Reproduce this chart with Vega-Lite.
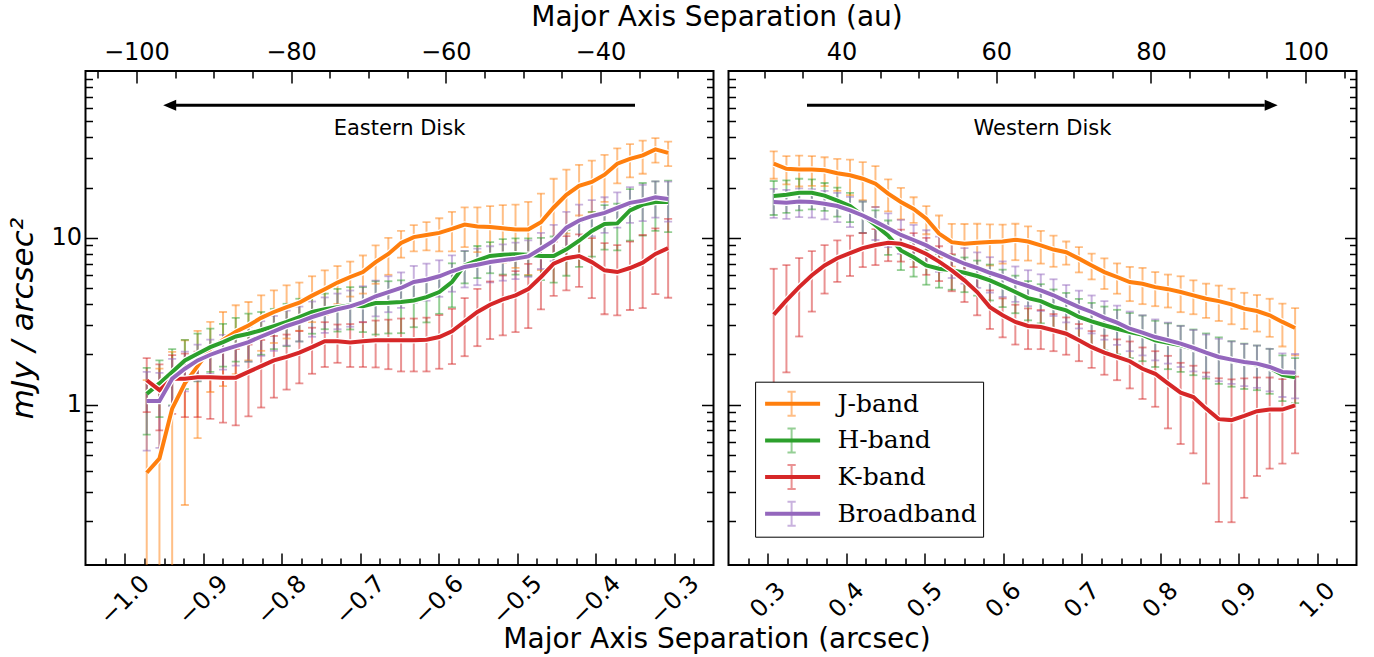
{
"$schema":"https://vega.github.io/schema/vega-lite/v6.json",
"background":"white",
"padding":{"left":6.5,"top":2,"right":5,"bottom":5},
"bounds":"flush",
"spacing":15,
"config":{
 "view":{"stroke":"black","strokeWidth":2},
 "axis":{"domain":false,"grid":false,"tickColor":"black","tickWidth":1.5,"labelFont":"DejaVu Sans","labelFontSize":24,"labelColor":"black","titleFont":"DejaVu Sans","titleFontSize":28,"titleFontWeight":"normal","titleColor":"black","labelFlush":false,"labelOverlap":false}
},
"datasets":{
"ann":[
{"s":"E","x":-0.35,"x2":-0.935,"tip":-0.951,"y":62.3,"xm":-0.65,"yt":44.8,"label":"Eastern Disk"},
{"s":"W","x":0.35,"x2":0.9331,"tip":0.9496,"y":62.3,"xm":0.65,"yt":44.8,"label":"Western Disk"}
],
"pts":[
{"s":"E","b":"J-band","x":-0.972,"v":0.39,"lo":0.01,"hi":1.4},
{"s":"E","b":"J-band","x":-0.9558,"v":0.475,"lo":0.01,"hi":1.645},
{"s":"E","b":"J-band","x":-0.9396,"v":0.946,"lo":0.01,"hi":2.07},
{"s":"E","b":"J-band","x":-0.9234,"v":1.34,"lo":0.25,"hi":2.43},
{"s":"E","b":"J-band","x":-0.9072,"v":1.7,"lo":0.63,"hi":2.77},
{"s":"E","b":"J-band","x":-0.891,"v":2.16,"lo":1.19,"hi":3.13},
{"s":"E","b":"J-band","x":-0.8748,"v":2.44,"lo":1.29,"hi":3.59},
{"s":"E","b":"J-band","x":-0.8586,"v":2.73,"lo":1.52,"hi":3.94},
{"s":"E","b":"J-band","x":-0.8424,"v":2.98,"lo":1.84,"hi":4.12},
{"s":"E","b":"J-band","x":-0.8262,"v":3.31,"lo":2.1,"hi":4.52},
{"s":"E","b":"J-band","x":-0.81,"v":3.59,"lo":2.34,"hi":4.84},
{"s":"E","b":"J-band","x":-0.7938,"v":3.84,"lo":2.49,"hi":5.19},
{"s":"E","b":"J-band","x":-0.7776,"v":4.08,"lo":2.77,"hi":5.39},
{"s":"E","b":"J-band","x":-0.7614,"v":4.5,"lo":3.12,"hi":5.88},
{"s":"E","b":"J-band","x":-0.7452,"v":4.92,"lo":3.46,"hi":6.38},
{"s":"E","b":"J-band","x":-0.729,"v":5.39,"lo":4.01,"hi":6.77},
{"s":"E","b":"J-band","x":-0.7128,"v":5.82,"lo":4.44,"hi":7.2},
{"s":"E","b":"J-band","x":-0.6966,"v":6.23,"lo":4.63,"hi":7.83},
{"s":"E","b":"J-band","x":-0.6804,"v":7.15,"lo":5.3,"hi":9.0},
{"s":"E","b":"J-band","x":-0.6642,"v":8.0,"lo":6.0,"hi":10.0},
{"s":"E","b":"J-band","x":-0.648,"v":9.3,"lo":7.6,"hi":11.0},
{"s":"E","b":"J-band","x":-0.6318,"v":10.1,"lo":8.3,"hi":11.9},
{"s":"E","b":"J-band","x":-0.6156,"v":10.4,"lo":8.4,"hi":12.4},
{"s":"E","b":"J-band","x":-0.5994,"v":10.7,"lo":8.3,"hi":13.1},
{"s":"E","b":"J-band","x":-0.5832,"v":11.3,"lo":8.3,"hi":14.3},
{"s":"E","b":"J-band","x":-0.567,"v":12.0,"lo":8.8,"hi":15.2},
{"s":"E","b":"J-band","x":-0.5508,"v":11.7,"lo":8.2,"hi":15.2},
{"s":"E","b":"J-band","x":-0.5346,"v":11.6,"lo":7.7,"hi":15.5},
{"s":"E","b":"J-band","x":-0.5184,"v":11.4,"lo":7.1,"hi":15.7},
{"s":"E","b":"J-band","x":-0.5022,"v":11.2,"lo":6.6,"hi":15.8},
{"s":"E","b":"J-band","x":-0.486,"v":11.2,"lo":6.0,"hi":16.4},
{"s":"E","b":"J-band","x":-0.4698,"v":12.4,"lo":6.4,"hi":18.4},
{"s":"E","b":"J-band","x":-0.4536,"v":15.2,"lo":7.8,"hi":22.6},
{"s":"E","b":"J-band","x":-0.4374,"v":18.1,"lo":10.6,"hi":25.6},
{"s":"E","b":"J-band","x":-0.4212,"v":20.5,"lo":13.6,"hi":27.4},
{"s":"E","b":"J-band","x":-0.405,"v":21.6,"lo":14.2,"hi":29.0},
{"s":"E","b":"J-band","x":-0.3888,"v":23.9,"lo":16.4,"hi":31.4},
{"s":"E","b":"J-band","x":-0.3726,"v":27.8,"lo":21.2,"hi":34.4},
{"s":"E","b":"J-band","x":-0.3564,"v":29.7,"lo":23.0,"hi":36.4},
{"s":"E","b":"J-band","x":-0.3402,"v":31.2,"lo":24.2,"hi":38.2},
{"s":"E","b":"J-band","x":-0.324,"v":33.9,"lo":28.2,"hi":39.6},
{"s":"E","b":"J-band","x":-0.3078,"v":32.3,"lo":26.9,"hi":37.7},
{"s":"E","b":"H-band","x":-0.972,"v":1.16,"lo":0.66,"hi":1.66},
{"s":"E","b":"H-band","x":-0.9558,"v":1.34,"lo":0.84,"hi":1.84},
{"s":"E","b":"H-band","x":-0.9396,"v":1.57,"lo":0.99,"hi":2.15},
{"s":"E","b":"H-band","x":-0.9234,"v":1.84,"lo":1.24,"hi":2.44},
{"s":"E","b":"H-band","x":-0.9072,"v":2.02,"lo":1.38,"hi":2.66},
{"s":"E","b":"H-band","x":-0.891,"v":2.21,"lo":1.57,"hi":2.85},
{"s":"E","b":"H-band","x":-0.8748,"v":2.37,"lo":1.69,"hi":3.05},
{"s":"E","b":"H-band","x":-0.8586,"v":2.56,"lo":1.81,"hi":3.31},
{"s":"E","b":"H-band","x":-0.8424,"v":2.66,"lo":1.81,"hi":3.51},
{"s":"E","b":"H-band","x":-0.8262,"v":2.79,"lo":1.99,"hi":3.59},
{"s":"E","b":"H-band","x":-0.81,"v":2.95,"lo":2.15,"hi":3.75},
{"s":"E","b":"H-band","x":-0.7938,"v":3.13,"lo":2.24,"hi":4.02},
{"s":"E","b":"H-band","x":-0.7776,"v":3.35,"lo":2.39,"hi":4.31},
{"s":"E","b":"H-band","x":-0.7614,"v":3.59,"lo":2.66,"hi":4.52},
{"s":"E","b":"H-band","x":-0.7452,"v":3.73,"lo":2.83,"hi":4.63},
{"s":"E","b":"H-band","x":-0.729,"v":3.84,"lo":2.74,"hi":4.94},
{"s":"E","b":"H-band","x":-0.7128,"v":3.94,"lo":2.82,"hi":5.06},
{"s":"E","b":"H-band","x":-0.6966,"v":3.89,"lo":2.72,"hi":5.06},
{"s":"E","b":"H-band","x":-0.6804,"v":4.06,"lo":2.63,"hi":5.49},
{"s":"E","b":"H-band","x":-0.6642,"v":4.08,"lo":2.67,"hi":5.49},
{"s":"E","b":"H-band","x":-0.648,"v":4.12,"lo":2.68,"hi":5.56},
{"s":"E","b":"H-band","x":-0.6318,"v":4.21,"lo":2.91,"hi":5.51},
{"s":"E","b":"H-band","x":-0.6156,"v":4.41,"lo":3.11,"hi":5.71},
{"s":"E","b":"H-band","x":-0.5994,"v":4.73,"lo":3.5,"hi":5.96},
{"s":"E","b":"H-band","x":-0.5832,"v":5.43,"lo":3.83,"hi":7.03},
{"s":"E","b":"H-band","x":-0.567,"v":6.83,"lo":5.33,"hi":8.33},
{"s":"E","b":"H-band","x":-0.5508,"v":7.33,"lo":5.73,"hi":8.93},
{"s":"E","b":"H-band","x":-0.5346,"v":7.78,"lo":6.13,"hi":9.43},
{"s":"E","b":"H-band","x":-0.5184,"v":7.92,"lo":6.02,"hi":9.82},
{"s":"E","b":"H-band","x":-0.5022,"v":7.97,"lo":6.02,"hi":9.92},
{"s":"E","b":"H-band","x":-0.486,"v":7.92,"lo":5.92,"hi":9.92},
{"s":"E","b":"H-band","x":-0.4698,"v":7.78,"lo":5.58,"hi":9.98},
{"s":"E","b":"H-band","x":-0.4536,"v":7.78,"lo":5.38,"hi":10.18},
{"s":"E","b":"H-band","x":-0.4374,"v":8.52,"lo":5.92,"hi":11.12},
{"s":"E","b":"H-band","x":-0.4212,"v":9.6,"lo":6.7,"hi":12.5},
{"s":"E","b":"H-band","x":-0.405,"v":11.0,"lo":7.7,"hi":14.3},
{"s":"E","b":"H-band","x":-0.3888,"v":12.1,"lo":8.5,"hi":15.7},
{"s":"E","b":"H-band","x":-0.3726,"v":12.2,"lo":8.4,"hi":16.0},
{"s":"E","b":"H-band","x":-0.3564,"v":14.6,"lo":9.6,"hi":19.6},
{"s":"E","b":"H-band","x":-0.3402,"v":15.8,"lo":10.3,"hi":21.3},
{"s":"E","b":"H-band","x":-0.324,"v":16.4,"lo":11.0,"hi":21.8},
{"s":"E","b":"H-band","x":-0.3078,"v":16.4,"lo":10.8,"hi":22.0},
{"s":"E","b":"K-band","x":-0.972,"v":1.4,"lo":0.9,"hi":1.9},
{"s":"E","b":"K-band","x":-0.9558,"v":1.22,"lo":0.7,"hi":1.74},
{"s":"E","b":"K-band","x":-0.9396,"v":1.43,"lo":0.88,"hi":1.98},
{"s":"E","b":"K-band","x":-0.9234,"v":1.43,"lo":0.84,"hi":2.02},
{"s":"E","b":"K-band","x":-0.9072,"v":1.46,"lo":0.84,"hi":2.08},
{"s":"E","b":"K-band","x":-0.891,"v":1.46,"lo":0.82,"hi":2.1},
{"s":"E","b":"K-band","x":-0.8748,"v":1.45,"lo":0.78,"hi":2.12},
{"s":"E","b":"K-band","x":-0.8586,"v":1.45,"lo":0.75,"hi":2.15},
{"s":"E","b":"K-band","x":-0.8424,"v":1.57,"lo":0.85,"hi":2.29},
{"s":"E","b":"K-band","x":-0.8262,"v":1.7,"lo":0.96,"hi":2.44},
{"s":"E","b":"K-band","x":-0.81,"v":1.84,"lo":1.1,"hi":2.58},
{"s":"E","b":"K-band","x":-0.7938,"v":1.93,"lo":1.23,"hi":2.63},
{"s":"E","b":"K-band","x":-0.7776,"v":2.05,"lo":1.34,"hi":2.76},
{"s":"E","b":"K-band","x":-0.7614,"v":2.21,"lo":1.53,"hi":2.89},
{"s":"E","b":"K-band","x":-0.7452,"v":2.4,"lo":1.68,"hi":3.12},
{"s":"E","b":"K-band","x":-0.729,"v":2.4,"lo":1.78,"hi":3.02},
{"s":"E","b":"K-band","x":-0.7128,"v":2.36,"lo":1.68,"hi":3.04},
{"s":"E","b":"K-band","x":-0.6966,"v":2.4,"lo":1.68,"hi":3.12},
{"s":"E","b":"K-band","x":-0.6804,"v":2.43,"lo":1.67,"hi":3.19},
{"s":"E","b":"K-band","x":-0.6642,"v":2.43,"lo":1.63,"hi":3.23},
{"s":"E","b":"K-band","x":-0.648,"v":2.43,"lo":1.58,"hi":3.28},
{"s":"E","b":"K-band","x":-0.6318,"v":2.43,"lo":1.58,"hi":3.28},
{"s":"E","b":"K-band","x":-0.6156,"v":2.45,"lo":1.58,"hi":3.32},
{"s":"E","b":"K-band","x":-0.5994,"v":2.54,"lo":1.64,"hi":3.44},
{"s":"E","b":"K-band","x":-0.5832,"v":2.75,"lo":1.75,"hi":3.75},
{"s":"E","b":"K-band","x":-0.567,"v":3.15,"lo":1.95,"hi":4.35},
{"s":"E","b":"K-band","x":-0.5508,"v":3.59,"lo":2.24,"hi":4.94},
{"s":"E","b":"K-band","x":-0.5346,"v":3.97,"lo":2.47,"hi":5.47},
{"s":"E","b":"K-band","x":-0.5184,"v":4.27,"lo":2.6,"hi":5.94},
{"s":"E","b":"K-band","x":-0.5022,"v":4.52,"lo":2.72,"hi":6.32},
{"s":"E","b":"K-band","x":-0.486,"v":4.92,"lo":2.87,"hi":6.97},
{"s":"E","b":"K-band","x":-0.4698,"v":5.82,"lo":3.72,"hi":7.92},
{"s":"E","b":"K-band","x":-0.4536,"v":6.99,"lo":4.49,"hi":9.49},
{"s":"E","b":"K-band","x":-0.4374,"v":7.54,"lo":4.84,"hi":10.24},
{"s":"E","b":"K-band","x":-0.4212,"v":7.78,"lo":5.08,"hi":10.48},
{"s":"E","b":"K-band","x":-0.405,"v":7.15,"lo":4.35,"hi":9.95},
{"s":"E","b":"K-band","x":-0.3888,"v":6.38,"lo":3.48,"hi":9.28},
{"s":"E","b":"K-band","x":-0.3726,"v":6.23,"lo":3.43,"hi":9.03},
{"s":"E","b":"K-band","x":-0.3564,"v":6.59,"lo":3.69,"hi":9.49},
{"s":"E","b":"K-band","x":-0.3402,"v":7.09,"lo":3.79,"hi":10.39},
{"s":"E","b":"K-band","x":-0.324,"v":8.0,"lo":4.6,"hi":11.4},
{"s":"E","b":"K-band","x":-0.3078,"v":8.67,"lo":4.37,"hi":12.97},
{"s":"E","b":"Broadband","x":-0.972,"v":1.05,"lo":0.53,"hi":1.57},
{"s":"E","b":"Broadband","x":-0.9558,"v":1.05,"lo":0.55,"hi":1.55},
{"s":"E","b":"Broadband","x":-0.9396,"v":1.43,"lo":0.98,"hi":1.88},
{"s":"E","b":"Broadband","x":-0.9234,"v":1.64,"lo":1.2,"hi":2.08},
{"s":"E","b":"Broadband","x":-0.9072,"v":1.84,"lo":1.39,"hi":2.29},
{"s":"E","b":"Broadband","x":-0.891,"v":1.99,"lo":1.53,"hi":2.45},
{"s":"E","b":"Broadband","x":-0.8748,"v":2.12,"lo":1.62,"hi":2.62},
{"s":"E","b":"Broadband","x":-0.8586,"v":2.24,"lo":1.71,"hi":2.77},
{"s":"E","b":"Broadband","x":-0.8424,"v":2.37,"lo":1.81,"hi":2.93},
{"s":"E","b":"Broadband","x":-0.8262,"v":2.56,"lo":1.96,"hi":3.16},
{"s":"E","b":"Broadband","x":-0.81,"v":2.75,"lo":2.1,"hi":3.4},
{"s":"E","b":"Broadband","x":-0.7938,"v":2.96,"lo":2.26,"hi":3.66},
{"s":"E","b":"Broadband","x":-0.7776,"v":3.13,"lo":2.39,"hi":3.87},
{"s":"E","b":"Broadband","x":-0.7614,"v":3.35,"lo":2.55,"hi":4.15},
{"s":"E","b":"Broadband","x":-0.7452,"v":3.54,"lo":2.69,"hi":4.39},
{"s":"E","b":"Broadband","x":-0.729,"v":3.73,"lo":2.83,"hi":4.63},
{"s":"E","b":"Broadband","x":-0.7128,"v":3.88,"lo":2.93,"hi":4.83},
{"s":"E","b":"Broadband","x":-0.6966,"v":4.12,"lo":3.12,"hi":5.12},
{"s":"E","b":"Broadband","x":-0.6804,"v":4.46,"lo":3.38,"hi":5.54},
{"s":"E","b":"Broadband","x":-0.6642,"v":4.73,"lo":3.58,"hi":5.88},
{"s":"E","b":"Broadband","x":-0.648,"v":5.0,"lo":3.8,"hi":6.2},
{"s":"E","b":"Broadband","x":-0.6318,"v":5.43,"lo":4.08,"hi":6.78},
{"s":"E","b":"Broadband","x":-0.6156,"v":5.6,"lo":4.2,"hi":7.0},
{"s":"E","b":"Broadband","x":-0.5994,"v":5.88,"lo":4.43,"hi":7.33},
{"s":"E","b":"Broadband","x":-0.5832,"v":6.3,"lo":4.75,"hi":7.85},
{"s":"E","b":"Broadband","x":-0.567,"v":6.69,"lo":5.04,"hi":8.34},
{"s":"E","b":"Broadband","x":-0.5508,"v":6.9,"lo":5.2,"hi":8.6},
{"s":"E","b":"Broadband","x":-0.5346,"v":7.15,"lo":5.4,"hi":8.9},
{"s":"E","b":"Broadband","x":-0.5184,"v":7.33,"lo":5.53,"hi":9.13},
{"s":"E","b":"Broadband","x":-0.5022,"v":7.5,"lo":5.65,"hi":9.35},
{"s":"E","b":"Broadband","x":-0.486,"v":7.74,"lo":5.84,"hi":9.64},
{"s":"E","b":"Broadband","x":-0.4698,"v":8.6,"lo":6.5,"hi":10.7},
{"s":"E","b":"Broadband","x":-0.4536,"v":9.6,"lo":7.25,"hi":11.95},
{"s":"E","b":"Broadband","x":-0.4374,"v":11.5,"lo":8.7,"hi":14.3},
{"s":"E","b":"Broadband","x":-0.4212,"v":12.7,"lo":9.6,"hi":15.8},
{"s":"E","b":"Broadband","x":-0.405,"v":13.5,"lo":10.2,"hi":16.8},
{"s":"E","b":"Broadband","x":-0.3888,"v":14.1,"lo":10.7,"hi":17.5},
{"s":"E","b":"Broadband","x":-0.3726,"v":15.1,"lo":11.5,"hi":18.7},
{"s":"E","b":"Broadband","x":-0.3564,"v":16.2,"lo":12.3,"hi":20.1},
{"s":"E","b":"Broadband","x":-0.3402,"v":16.7,"lo":12.6,"hi":20.8},
{"s":"E","b":"Broadband","x":-0.324,"v":17.5,"lo":13.2,"hi":21.8},
{"s":"E","b":"Broadband","x":-0.3078,"v":17.1,"lo":12.5,"hi":21.7},
{"s":"W","b":"J-band","x":0.3076,"v":27.8,"lo":22.6,"hi":33.0},
{"s":"W","b":"J-band","x":0.3238,"v":25.9,"lo":20.9,"hi":30.9},
{"s":"W","b":"J-band","x":0.34,"v":25.7,"lo":20.3,"hi":31.1},
{"s":"W","b":"J-band","x":0.3562,"v":25.7,"lo":20.5,"hi":30.9},
{"s":"W","b":"J-band","x":0.3724,"v":25.4,"lo":20.4,"hi":30.4},
{"s":"W","b":"J-band","x":0.3886,"v":24.4,"lo":19.1,"hi":29.7},
{"s":"W","b":"J-band","x":0.4048,"v":23.7,"lo":18.0,"hi":29.4},
{"s":"W","b":"J-band","x":0.421,"v":22.6,"lo":16.8,"hi":28.4},
{"s":"W","b":"J-band","x":0.4372,"v":21.1,"lo":15.3,"hi":26.9},
{"s":"W","b":"J-band","x":0.4534,"v":18.4,"lo":14.4,"hi":22.4},
{"s":"W","b":"J-band","x":0.4696,"v":16.4,"lo":12.9,"hi":19.9},
{"s":"W","b":"J-band","x":0.4858,"v":14.9,"lo":12.3,"hi":17.5},
{"s":"W","b":"J-band","x":0.502,"v":13.0,"lo":10.5,"hi":15.5},
{"s":"W","b":"J-band","x":0.5182,"v":10.6,"lo":7.6,"hi":13.6},
{"s":"W","b":"J-band","x":0.5344,"v":9.42,"lo":6.72,"hi":12.12},
{"s":"W","b":"J-band","x":0.5506,"v":9.2,"lo":6.3,"hi":12.1},
{"s":"W","b":"J-band","x":0.5668,"v":9.34,"lo":6.54,"hi":12.14},
{"s":"W","b":"J-band","x":0.583,"v":9.42,"lo":6.82,"hi":12.02},
{"s":"W","b":"J-band","x":0.5992,"v":9.5,"lo":7.0,"hi":12.0},
{"s":"W","b":"J-band","x":0.6154,"v":9.74,"lo":7.34,"hi":12.14},
{"s":"W","b":"J-band","x":0.6316,"v":9.5,"lo":7.3,"hi":11.7},
{"s":"W","b":"J-band","x":0.6478,"v":9.0,"lo":7.0,"hi":11.0},
{"s":"W","b":"J-band","x":0.664,"v":8.5,"lo":6.7,"hi":10.3},
{"s":"W","b":"J-band","x":0.6802,"v":8.2,"lo":6.9,"hi":9.5},
{"s":"W","b":"J-band","x":0.6964,"v":7.5,"lo":6.2,"hi":8.8},
{"s":"W","b":"J-band","x":0.7126,"v":6.83,"lo":5.63,"hi":8.03},
{"s":"W","b":"J-band","x":0.7288,"v":6.23,"lo":4.93,"hi":7.53},
{"s":"W","b":"J-band","x":0.745,"v":5.82,"lo":4.62,"hi":7.02},
{"s":"W","b":"J-band","x":0.7612,"v":5.43,"lo":4.17,"hi":6.69},
{"s":"W","b":"J-band","x":0.7774,"v":5.3,"lo":4.0,"hi":6.6},
{"s":"W","b":"J-band","x":0.7936,"v":5.06,"lo":3.89,"hi":6.23},
{"s":"W","b":"J-band","x":0.8098,"v":4.92,"lo":3.82,"hi":6.02},
{"s":"W","b":"J-band","x":0.826,"v":4.73,"lo":3.58,"hi":5.88},
{"s":"W","b":"J-band","x":0.8422,"v":4.52,"lo":3.48,"hi":5.56},
{"s":"W","b":"J-band","x":0.8584,"v":4.31,"lo":3.31,"hi":5.31},
{"s":"W","b":"J-band","x":0.8746,"v":4.17,"lo":3.17,"hi":5.17},
{"s":"W","b":"J-band","x":0.8908,"v":3.99,"lo":3.03,"hi":4.95},
{"s":"W","b":"J-band","x":0.907,"v":3.76,"lo":2.84,"hi":4.68},
{"s":"W","b":"J-band","x":0.9232,"v":3.64,"lo":2.74,"hi":4.54},
{"s":"W","b":"J-band","x":0.9394,"v":3.43,"lo":2.55,"hi":4.31},
{"s":"W","b":"J-band","x":0.9556,"v":3.13,"lo":2.23,"hi":4.03},
{"s":"W","b":"J-band","x":0.9718,"v":2.88,"lo":1.97,"hi":3.79},
{"s":"W","b":"H-band","x":0.3076,"v":17.8,"lo":13.7,"hi":21.9},
{"s":"W","b":"H-band","x":0.3238,"v":18.1,"lo":14.1,"hi":22.1},
{"s":"W","b":"H-band","x":0.34,"v":18.6,"lo":14.6,"hi":22.6},
{"s":"W","b":"H-band","x":0.3562,"v":18.6,"lo":14.8,"hi":22.4},
{"s":"W","b":"H-band","x":0.3724,"v":17.9,"lo":14.5,"hi":21.3},
{"s":"W","b":"H-band","x":0.3886,"v":16.7,"lo":13.4,"hi":20.0},
{"s":"W","b":"H-band","x":0.4048,"v":15.5,"lo":12.4,"hi":18.6},
{"s":"W","b":"H-band","x":0.421,"v":13.6,"lo":10.7,"hi":16.5},
{"s":"W","b":"H-band","x":0.4372,"v":11.9,"lo":9.2,"hi":14.6},
{"s":"W","b":"H-band","x":0.4534,"v":10.3,"lo":7.9,"hi":12.7},
{"s":"W","b":"H-band","x":0.4696,"v":8.4,"lo":6.4,"hi":10.4},
{"s":"W","b":"H-band","x":0.4858,"v":7.65,"lo":5.85,"hi":9.45},
{"s":"W","b":"H-band","x":0.502,"v":6.83,"lo":5.23,"hi":8.43},
{"s":"W","b":"H-band","x":0.5182,"v":6.52,"lo":5.02,"hi":8.02},
{"s":"W","b":"H-band","x":0.5344,"v":6.38,"lo":4.88,"hi":7.88},
{"s":"W","b":"H-band","x":0.5506,"v":6.17,"lo":4.72,"hi":7.62},
{"s":"W","b":"H-band","x":0.5668,"v":5.9,"lo":4.5,"hi":7.3},
{"s":"W","b":"H-band","x":0.583,"v":5.56,"lo":4.21,"hi":6.91},
{"s":"W","b":"H-band","x":0.5992,"v":5.14,"lo":3.84,"hi":6.44},
{"s":"W","b":"H-band","x":0.6154,"v":4.73,"lo":3.53,"hi":5.93},
{"s":"W","b":"H-band","x":0.6316,"v":4.35,"lo":3.2,"hi":5.5},
{"s":"W","b":"H-band","x":0.6478,"v":4.17,"lo":3.07,"hi":5.27},
{"s":"W","b":"H-band","x":0.664,"v":3.85,"lo":2.8,"hi":4.9},
{"s":"W","b":"H-band","x":0.6802,"v":3.67,"lo":2.67,"hi":4.67},
{"s":"W","b":"H-band","x":0.6964,"v":3.35,"lo":2.4,"hi":4.3},
{"s":"W","b":"H-band","x":0.7126,"v":3.15,"lo":2.23,"hi":4.07},
{"s":"W","b":"H-band","x":0.7288,"v":2.99,"lo":2.11,"hi":3.87},
{"s":"W","b":"H-band","x":0.745,"v":2.85,"lo":2.0,"hi":3.7},
{"s":"W","b":"H-band","x":0.7612,"v":2.72,"lo":1.9,"hi":3.54},
{"s":"W","b":"H-band","x":0.7774,"v":2.62,"lo":1.82,"hi":3.42},
{"s":"W","b":"H-band","x":0.7936,"v":2.43,"lo":1.68,"hi":3.18},
{"s":"W","b":"H-band","x":0.8098,"v":2.35,"lo":1.63,"hi":3.07},
{"s":"W","b":"H-band","x":0.826,"v":2.27,"lo":1.57,"hi":2.97},
{"s":"W","b":"H-band","x":0.8422,"v":2.16,"lo":1.5,"hi":2.82},
{"s":"W","b":"H-band","x":0.8584,"v":2.05,"lo":1.43,"hi":2.67},
{"s":"W","b":"H-band","x":0.8746,"v":1.93,"lo":1.33,"hi":2.53},
{"s":"W","b":"H-band","x":0.8908,"v":1.84,"lo":1.28,"hi":2.4},
{"s":"W","b":"H-band","x":0.907,"v":1.78,"lo":1.24,"hi":2.32},
{"s":"W","b":"H-band","x":0.9232,"v":1.74,"lo":1.22,"hi":2.26},
{"s":"W","b":"H-band","x":0.9394,"v":1.66,"lo":1.16,"hi":2.16},
{"s":"W","b":"H-band","x":0.9556,"v":1.51,"lo":1.05,"hi":1.97},
{"s":"W","b":"H-band","x":0.9718,"v":1.46,"lo":1.02,"hi":1.9},
{"s":"W","b":"K-band","x":0.3076,"v":3.46,"lo":0.4,"hi":6.52},
{"s":"W","b":"K-band","x":0.3238,"v":4.21,"lo":1.56,"hi":6.86},
{"s":"W","b":"K-band","x":0.34,"v":5.06,"lo":2.56,"hi":7.56},
{"s":"W","b":"K-band","x":0.3562,"v":5.96,"lo":3.61,"hi":8.31},
{"s":"W","b":"K-band","x":0.3724,"v":6.83,"lo":4.63,"hi":9.03},
{"s":"W","b":"K-band","x":0.3886,"v":7.54,"lo":5.44,"hi":9.64},
{"s":"W","b":"K-band","x":0.4048,"v":8.1,"lo":5.9,"hi":10.3},
{"s":"W","b":"K-band","x":0.421,"v":8.67,"lo":6.67,"hi":10.67},
{"s":"W","b":"K-band","x":0.4372,"v":9.06,"lo":6.86,"hi":11.26},
{"s":"W","b":"K-band","x":0.4534,"v":9.34,"lo":7.24,"hi":11.44},
{"s":"W","b":"K-band","x":0.4696,"v":9.2,"lo":7.2,"hi":11.2},
{"s":"W","b":"K-band","x":0.4858,"v":8.67,"lo":6.67,"hi":10.67},
{"s":"W","b":"K-band","x":0.502,"v":8.0,"lo":6.0,"hi":10.0},
{"s":"W","b":"K-band","x":0.5182,"v":7.2,"lo":5.5,"hi":8.9},
{"s":"W","b":"K-band","x":0.5344,"v":6.38,"lo":4.78,"hi":7.98},
{"s":"W","b":"K-band","x":0.5506,"v":5.56,"lo":4.12,"hi":7.0},
{"s":"W","b":"K-band","x":0.5668,"v":4.73,"lo":3.43,"hi":6.03},
{"s":"W","b":"K-band","x":0.583,"v":3.84,"lo":2.84,"hi":4.84},
{"s":"W","b":"K-band","x":0.5992,"v":3.43,"lo":2.53,"hi":4.33},
{"s":"W","b":"K-band","x":0.6154,"v":3.13,"lo":2.29,"hi":3.97},
{"s":"W","b":"K-band","x":0.6316,"v":2.96,"lo":2.15,"hi":3.77},
{"s":"W","b":"K-band","x":0.6478,"v":2.92,"lo":2.15,"hi":3.69},
{"s":"W","b":"K-band","x":0.664,"v":2.79,"lo":2.09,"hi":3.49},
{"s":"W","b":"K-band","x":0.6802,"v":2.66,"lo":1.99,"hi":3.33},
{"s":"W","b":"K-band","x":0.6964,"v":2.43,"lo":1.82,"hi":3.04},
{"s":"W","b":"K-band","x":0.7126,"v":2.21,"lo":1.66,"hi":2.76},
{"s":"W","b":"K-band","x":0.7288,"v":2.05,"lo":1.51,"hi":2.59},
{"s":"W","b":"K-band","x":0.745,"v":1.93,"lo":1.4,"hi":2.46},
{"s":"W","b":"K-band","x":0.7612,"v":1.82,"lo":1.25,"hi":2.39},
{"s":"W","b":"K-band","x":0.7774,"v":1.64,"lo":1.08,"hi":2.2},
{"s":"W","b":"K-band","x":0.7936,"v":1.53,"lo":0.97,"hi":2.09},
{"s":"W","b":"K-band","x":0.8098,"v":1.34,"lo":0.72,"hi":1.96},
{"s":"W","b":"K-band","x":0.826,"v":1.18,"lo":0.58,"hi":1.78},
{"s":"W","b":"K-band","x":0.8422,"v":1.11,"lo":0.51,"hi":1.71},
{"s":"W","b":"K-band","x":0.8584,"v":0.946,"lo":0.336,"hi":1.556},
{"s":"W","b":"K-band","x":0.8746,"v":0.818,"lo":0.198,"hi":1.438},
{"s":"W","b":"K-band","x":0.8908,"v":0.807,"lo":0.197,"hi":1.417},
{"s":"W","b":"K-band","x":0.907,"v":0.856,"lo":0.276,"hi":1.436},
{"s":"W","b":"K-band","x":0.9232,"v":0.913,"lo":0.373,"hi":1.453},
{"s":"W","b":"K-band","x":0.9394,"v":0.933,"lo":0.413,"hi":1.453},
{"s":"W","b":"K-band","x":0.9556,"v":0.933,"lo":0.443,"hi":1.423},
{"s":"W","b":"K-band","x":0.9718,"v":0.99,"lo":0.51,"hi":1.47},
{"s":"W","b":"Broadband","x":0.3076,"v":16.4,"lo":13.15,"hi":19.65},
{"s":"W","b":"Broadband","x":0.3238,"v":16.2,"lo":13.0,"hi":19.4},
{"s":"W","b":"Broadband","x":0.34,"v":16.5,"lo":13.3,"hi":19.7},
{"s":"W","b":"Broadband","x":0.3562,"v":16.4,"lo":13.2,"hi":19.6},
{"s":"W","b":"Broadband","x":0.3724,"v":16.0,"lo":12.9,"hi":19.1},
{"s":"W","b":"Broadband","x":0.3886,"v":15.5,"lo":12.4,"hi":18.6},
{"s":"W","b":"Broadband","x":0.4048,"v":14.6,"lo":11.6,"hi":17.6},
{"s":"W","b":"Broadband","x":0.421,"v":13.6,"lo":10.7,"hi":16.5},
{"s":"W","b":"Broadband","x":0.4372,"v":12.5,"lo":9.7,"hi":15.3},
{"s":"W","b":"Broadband","x":0.4534,"v":11.4,"lo":8.8,"hi":14.0},
{"s":"W","b":"Broadband","x":0.4696,"v":10.4,"lo":8.0,"hi":12.8},
{"s":"W","b":"Broadband","x":0.4858,"v":9.7,"lo":7.45,"hi":11.95},
{"s":"W","b":"Broadband","x":0.502,"v":9.0,"lo":6.9,"hi":11.1},
{"s":"W","b":"Broadband","x":0.5182,"v":8.2,"lo":6.25,"hi":10.15},
{"s":"W","b":"Broadband","x":0.5344,"v":7.54,"lo":5.74,"hi":9.34},
{"s":"W","b":"Broadband","x":0.5506,"v":6.99,"lo":5.31,"hi":8.67},
{"s":"W","b":"Broadband","x":0.5668,"v":6.59,"lo":5.01,"hi":8.17},
{"s":"W","b":"Broadband","x":0.583,"v":6.17,"lo":4.69,"hi":7.65},
{"s":"W","b":"Broadband","x":0.5992,"v":5.82,"lo":4.42,"hi":7.22},
{"s":"W","b":"Broadband","x":0.6154,"v":5.43,"lo":4.13,"hi":6.73},
{"s":"W","b":"Broadband","x":0.6316,"v":5.14,"lo":3.89,"hi":6.39},
{"s":"W","b":"Broadband","x":0.6478,"v":4.84,"lo":3.64,"hi":6.04},
{"s":"W","b":"Broadband","x":0.664,"v":4.52,"lo":3.4,"hi":5.64},
{"s":"W","b":"Broadband","x":0.6802,"v":4.16,"lo":3.11,"hi":5.21},
{"s":"W","b":"Broadband","x":0.6964,"v":3.84,"lo":2.86,"hi":4.82},
{"s":"W","b":"Broadband","x":0.7126,"v":3.59,"lo":2.67,"hi":4.51},
{"s":"W","b":"Broadband","x":0.7288,"v":3.31,"lo":2.45,"hi":4.17},
{"s":"W","b":"Broadband","x":0.745,"v":3.1,"lo":2.28,"hi":3.92},
{"s":"W","b":"Broadband","x":0.7612,"v":2.85,"lo":2.09,"hi":3.61},
{"s":"W","b":"Broadband","x":0.7774,"v":2.7,"lo":1.97,"hi":3.43},
{"s":"W","b":"Broadband","x":0.7936,"v":2.54,"lo":1.84,"hi":3.24},
{"s":"W","b":"Broadband","x":0.8098,"v":2.43,"lo":1.76,"hi":3.1},
{"s":"W","b":"Broadband","x":0.826,"v":2.32,"lo":1.68,"hi":2.96},
{"s":"W","b":"Broadband","x":0.8422,"v":2.19,"lo":1.58,"hi":2.8},
{"s":"W","b":"Broadband","x":0.8584,"v":2.05,"lo":1.47,"hi":2.63},
{"s":"W","b":"Broadband","x":0.8746,"v":1.93,"lo":1.38,"hi":2.48},
{"s":"W","b":"Broadband","x":0.8908,"v":1.86,"lo":1.33,"hi":2.39},
{"s":"W","b":"Broadband","x":0.907,"v":1.8,"lo":1.29,"hi":2.31},
{"s":"W","b":"Broadband","x":0.9232,"v":1.76,"lo":1.26,"hi":2.26},
{"s":"W","b":"Broadband","x":0.9394,"v":1.68,"lo":1.2,"hi":2.16},
{"s":"W","b":"Broadband","x":0.9556,"v":1.57,"lo":1.11,"hi":2.03},
{"s":"W","b":"Broadband","x":0.9718,"v":1.55,"lo":1.09,"hi":2.01}
]
},
"resolve":{"scale":{"x":"independent","y":"independent","color":"independent","stroke":"independent"}},
"hconcat":[
{
"width":628,"height":494,
"resolve":{"axis":{"x":"independent","y":"independent"}},
"layer":[
{"data":{"name":"pts"},"transform":[{"filter":"datum.s==='E'"}],
 "mark":{"type":"rule","strokeWidth":2,"opacity":0.5,"clip":true},
 "encoding":{
  "x":{"field":"x","type":"quantitative","scale":{"domain":[-1.05,-0.25],"nice":false,"zero":false},
   "axis":{"orient":"bottom","values":[-1.0,-0.9,-0.8,-0.7,-0.6,-0.5,-0.4,-0.3],"tickSize":-12,"labelAngle":-45,"labelAlign":"center","labelBaseline":"middle","labelPadding":47,"labelExpr":"replace(format(datum.value,'.1f'),'-','−')","title":"Major Axis Separation (arcsec)","titleX":631,"titleY":82,"titleAlign":"center","titleBaseline":"alphabetic","titleAnchor":null}},
  "y":{"field":"lo","type":"quantitative","scale":{"type":"log","domain":[0.1092,100],"nice":false},
   "axis":{"orient":"left","values":[1,10],"tickSize":-12,"labelPadding":16,"labelExpr":"format(datum.value,'d')","title":"mJy / arcsec²","titleFontSize":31,"titleFontStyle":"italic","titleX":-62,"titleY":247,"titleAngle":-90,"titleAlign":"center","titleBaseline":"middle"}},
  "y2":{"field":"hi"},
  "color":{"field":"b","type":"nominal","scale":{"domain":["J-band","H-band","K-band","Broadband"],"range":["#ff7f0e","#2ca02c","#d62728","#9467bd"]},"legend":null}
 }},
{"data":{"name":"pts"},"transform":[{"filter":"datum.s==='E'"}],
 "mark":{"type":"tick","orient":"horizontal","size":8,"thickness":1.8,"opacity":0.5,"clip":true},
 "encoding":{
  "x":{"field":"x","type":"quantitative","scale":{"domain":[-1.05,-0.25],"nice":false,"zero":false},
   "axis":{"orient":"bottom","values":[-1.025,-0.975,-0.95,-0.925,-0.875,-0.85,-0.825,-0.775,-0.75,-0.725,-0.675,-0.65,-0.625,-0.575,-0.55,-0.525,-0.475,-0.45,-0.425,-0.375,-0.35,-0.325,-0.275],"tickSize":-7,"labels":false,"title":null}},
  "y":{"field":"lo","type":"quantitative","scale":{"type":"log","domain":[0.1092,100],"nice":false},
   "axis":{"orient":"left","values":[0.2,0.3,0.4,0.5,0.6,0.7,0.8,0.9,2,3,4,5,6,7,8,9,20,30,40,50,60,70,80,90],"tickSize":-7,"labels":false,"title":null}},
  "color":{"field":"b","type":"nominal","scale":{"domain":["J-band","H-band","K-band","Broadband"],"range":["#ff7f0e","#2ca02c","#d62728","#9467bd"]},"legend":null}
 }},
{"data":{"name":"pts"},"transform":[{"filter":"datum.s==='E'"}],
 "mark":{"type":"tick","orient":"horizontal","size":8,"thickness":1.8,"opacity":0.5,"clip":true},
 "encoding":{
  "x":{"field":"x","type":"quantitative","scale":{"domain":[-1.05,-0.25],"nice":false,"zero":false},
   "axis":{"orient":"top","values":[-0.985222,-0.788177,-0.591133,-0.394089],"tickSize":-12,"labelPadding":24,"labelBaseline":"alphabetic","labelExpr":"replace(format(round(datum.value*101.5),'d'),'-','−')","title":"Major Axis Separation (au)","titleX":631,"titleY":-46,"titleAlign":"center","titleBaseline":"alphabetic","titleAnchor":null}},
  "y":{"field":"hi","type":"quantitative","scale":{"type":"log","domain":[0.1092,100],"nice":false},
   "axis":{"orient":"right","values":[1,10],"tickSize":-12,"labels":false,"title":null}},
  "color":{"field":"b","type":"nominal","scale":{"domain":["J-band","H-band","K-band","Broadband"],"range":["#ff7f0e","#2ca02c","#d62728","#9467bd"]},"legend":null}
 }},
{"data":{"name":"pts"},"transform":[{"filter":"datum.s==='E' && datum.b==='J-band'"}],
 "mark":{"type":"line","strokeWidth":6.5,"color":"white"},
 "encoding":{
  "x":{"field":"x","type":"quantitative","scale":{"domain":[-1.05,-0.25],"nice":false,"zero":false},
   "axis":{"orient":"top","values":[-1.034483,-0.935961,-0.8867,-0.837438,-0.738916,-0.689655,-0.640394,-0.541872,-0.492611,-0.44335,-0.344828,-0.295567],"tickSize":-7,"labels":false,"title":null}},
  "y":{"field":"v","type":"quantitative","scale":{"type":"log","domain":[0.1092,100],"nice":false},
   "axis":{"orient":"right","values":[0.2,0.3,0.4,0.5,0.6,0.7,0.8,0.9,2,3,4,5,6,7,8,9,20,30,40,50,60,70,80,90],"tickSize":-7,"labels":false,"title":null}}
 }},
{"data":{"name":"pts"},"transform":[{"filter":"datum.s==='E' && datum.b==='J-band'"}],
 "mark":{"type":"line","strokeWidth":4},
 "encoding":{
  "x":{"field":"x","type":"quantitative","scale":{"domain":[-1.05,-0.25],"nice":false,"zero":false},"axis":null},
  "y":{"field":"v","type":"quantitative","scale":{"type":"log","domain":[0.1092,100],"nice":false},"axis":null},
  "stroke":{"field":"b","type":"nominal","scale":{"domain":["J-band","H-band","K-band","Broadband"],"range":["#ff7f0e","#2ca02c","#d62728","#9467bd"]},"legend":null}
 }},
{"data":{"name":"pts"},"transform":[{"filter":"datum.s==='E' && datum.b==='H-band'"}],
 "mark":{"type":"line","strokeWidth":6.5,"color":"white"},
 "encoding":{
  "x":{"field":"x","type":"quantitative","scale":{"domain":[-1.05,-0.25],"nice":false,"zero":false},"axis":null},
  "y":{"field":"v","type":"quantitative","scale":{"type":"log","domain":[0.1092,100],"nice":false},"axis":null}
 }},
{"data":{"name":"pts"},"transform":[{"filter":"datum.s==='E' && datum.b==='H-band'"}],
 "mark":{"type":"line","strokeWidth":4},
 "encoding":{
  "x":{"field":"x","type":"quantitative","scale":{"domain":[-1.05,-0.25],"nice":false,"zero":false},"axis":null},
  "y":{"field":"v","type":"quantitative","scale":{"type":"log","domain":[0.1092,100],"nice":false},"axis":null},
  "stroke":{"field":"b","type":"nominal","scale":{"domain":["J-band","H-band","K-band","Broadband"],"range":["#ff7f0e","#2ca02c","#d62728","#9467bd"]},"legend":null}
 }},
{"data":{"name":"pts"},"transform":[{"filter":"datum.s==='E' && datum.b==='K-band'"}],
 "mark":{"type":"line","strokeWidth":6.5,"color":"white"},
 "encoding":{
  "x":{"field":"x","type":"quantitative","scale":{"domain":[-1.05,-0.25],"nice":false,"zero":false},"axis":null},
  "y":{"field":"v","type":"quantitative","scale":{"type":"log","domain":[0.1092,100],"nice":false},"axis":null}
 }},
{"data":{"name":"pts"},"transform":[{"filter":"datum.s==='E' && datum.b==='K-band'"}],
 "mark":{"type":"line","strokeWidth":4},
 "encoding":{
  "x":{"field":"x","type":"quantitative","scale":{"domain":[-1.05,-0.25],"nice":false,"zero":false},"axis":null},
  "y":{"field":"v","type":"quantitative","scale":{"type":"log","domain":[0.1092,100],"nice":false},"axis":null},
  "stroke":{"field":"b","type":"nominal","scale":{"domain":["J-band","H-band","K-band","Broadband"],"range":["#ff7f0e","#2ca02c","#d62728","#9467bd"]},"legend":null}
 }},
{"data":{"name":"pts"},"transform":[{"filter":"datum.s==='E' && datum.b==='Broadband'"}],
 "mark":{"type":"line","strokeWidth":6.5,"color":"white"},
 "encoding":{
  "x":{"field":"x","type":"quantitative","scale":{"domain":[-1.05,-0.25],"nice":false,"zero":false},"axis":null},
  "y":{"field":"v","type":"quantitative","scale":{"type":"log","domain":[0.1092,100],"nice":false},"axis":null}
 }},
{"data":{"name":"pts"},"transform":[{"filter":"datum.s==='E' && datum.b==='Broadband'"}],
 "mark":{"type":"line","strokeWidth":4},
 "encoding":{
  "x":{"field":"x","type":"quantitative","scale":{"domain":[-1.05,-0.25],"nice":false,"zero":false},"axis":null},
  "y":{"field":"v","type":"quantitative","scale":{"type":"log","domain":[0.1092,100],"nice":false},"axis":null},
  "stroke":{"field":"b","type":"nominal","scale":{"domain":["J-band","H-band","K-band","Broadband"],"range":["#ff7f0e","#2ca02c","#d62728","#9467bd"]},"legend":null}
 }},
{"data":{"name":"ann"},"transform":[{"filter":"datum.s==='E'"}],
 "mark":{"type":"rule","strokeWidth":3,"color":"black"},
 "encoding":{
  "x":{"field":"x","type":"quantitative","scale":{"domain":[-1.05,-0.25],"nice":false,"zero":false},"axis":null},
  "x2":{"field":"x2"},
  "y":{"field":"y","type":"quantitative","scale":{"type":"log","domain":[0.1092,100],"nice":false},"axis":null}
 }},
{"data":{"name":"ann"},"transform":[{"filter":"datum.s==='E'"}],
 "mark":{"type":"point","shape":"M0,0L2,-0.85L2,0.85Z","size":169,"filled":true,"color":"black","opacity":1,"strokeWidth":0},
 "encoding":{
  "x":{"field":"tip","type":"quantitative","scale":{"domain":[-1.05,-0.25],"nice":false,"zero":false},"axis":null},
  "y":{"field":"y","type":"quantitative","scale":{"type":"log","domain":[0.1092,100],"nice":false},"axis":null}
 }},
{"data":{"name":"ann"},"transform":[{"filter":"datum.s==='E'"}],
 "mark":{"type":"text","fontSize":21,"font":"DejaVu Sans","align":"center","baseline":"middle","color":"black"},
 "encoding":{
  "x":{"field":"xm","type":"quantitative","scale":{"domain":[-1.05,-0.25],"nice":false,"zero":false},"axis":null},
  "y":{"field":"yt","type":"quantitative","scale":{"type":"log","domain":[0.1092,100],"nice":false},"axis":null},
  "text":{"field":"label"}
 }}
]
},
{
"width":628,"height":494,
"resolve":{"axis":{"x":"independent","y":"independent"}},
"layer":[
{"data":{"name":"pts"},"transform":[{"filter":"datum.s==='W'"}],
 "mark":{"type":"rule","strokeWidth":2,"opacity":0.5,"clip":true},
 "encoding":{
  "x":{"field":"x","type":"quantitative","scale":{"domain":[0.25,1.05],"nice":false,"zero":false},
   "axis":{"orient":"bottom","values":[0.3,0.4,0.5,0.6,0.7,0.8,0.9,1.0],"tickSize":-12,"labelAngle":-45,"labelAlign":"center","labelBaseline":"middle","labelPadding":47,"labelExpr":"format(datum.value,'.1f')","title":null}},
  "y":{"field":"lo","type":"quantitative","scale":{"type":"log","domain":[0.1092,100],"nice":false},
   "axis":{"orient":"left","values":[1,10],"tickSize":-12,"labels":false,"title":null}},
  "y2":{"field":"hi"},
  "color":{"field":"b","type":"nominal","scale":{"domain":["J-band","H-band","K-band","Broadband","~"],"range":["#ff7f0e","#2ca02c","#d62728","#9467bd","#888888"]},
   "legend":{"orient":"none","legendX":26.6,"legendY":310.7,"direction":"vertical","title":null,"values":["J-band","H-band","K-band","Broadband"],"symbolType":"M0,-0.436V0.436M-0.15,-0.436H0.15M-0.15,0.436H0.15","symbolSize":3025,"symbolStrokeWidth":2,"symbolOpacity":0.5,"labelFont":"DejaVu Serif","labelFontSize":25,"labelOpacity":0,"labelOffset":15.4,"padding":8,"clipHeight":28,"rowPadding":8.7,"fillColor":"white","strokeColor":"black"}}
 }},
{"data":{"name":"pts"},"transform":[{"filter":"datum.s==='W'"}],
 "mark":{"type":"tick","orient":"horizontal","size":8,"thickness":1.8,"opacity":0.5,"clip":true},
 "encoding":{
  "x":{"field":"x","type":"quantitative","scale":{"domain":[0.25,1.05],"nice":false,"zero":false},
   "axis":{"orient":"bottom","values":[0.275,0.325,0.35,0.375,0.425,0.45,0.475,0.525,0.55,0.575,0.625,0.65,0.675,0.725,0.75,0.775,0.825,0.85,0.875,0.925,0.95,0.975,1.025],"tickSize":-7,"labels":false,"title":null}},
  "y":{"field":"lo","type":"quantitative","scale":{"type":"log","domain":[0.1092,100],"nice":false},
   "axis":{"orient":"left","values":[0.2,0.3,0.4,0.5,0.6,0.7,0.8,0.9,2,3,4,5,6,7,8,9,20,30,40,50,60,70,80,90],"tickSize":-7,"labels":false,"title":null}},
  "color":{"field":"b","type":"nominal","scale":{"domain":["J-band","H-band","K-band","Broadband","~"],"range":["#ff7f0e","#2ca02c","#d62728","#9467bd","#888888"]},"legend":null}
 }},
{"data":{"name":"pts"},"transform":[{"filter":"datum.s==='W'"}],
 "mark":{"type":"tick","orient":"horizontal","size":8,"thickness":1.8,"opacity":0.5,"clip":true},
 "encoding":{
  "x":{"field":"x","type":"quantitative","scale":{"domain":[0.25,1.05],"nice":false,"zero":false},
   "axis":{"orient":"top","values":[0.394089,0.591133,0.788177,0.985222],"tickSize":-12,"labelPadding":24,"labelBaseline":"alphabetic","labelExpr":"format(round(datum.value*101.5),'d')","title":null}},
  "y":{"field":"hi","type":"quantitative","scale":{"type":"log","domain":[0.1092,100],"nice":false},
   "axis":{"orient":"right","values":[1,10],"tickSize":-12,"labels":false,"title":null}},
  "color":{"field":"b","type":"nominal","scale":{"domain":["J-band","H-band","K-band","Broadband","~"],"range":["#ff7f0e","#2ca02c","#d62728","#9467bd","#888888"]},"legend":null}
 }},
{"data":{"name":"pts"},"transform":[{"filter":"datum.s==='W' && datum.b==='J-band'"}],
 "mark":{"type":"line","strokeWidth":6.5,"color":"white"},
 "encoding":{
  "x":{"field":"x","type":"quantitative","scale":{"domain":[0.25,1.05],"nice":false,"zero":false},
   "axis":{"orient":"top","values":[0.295567,0.344828,0.44335,0.492611,0.541872,0.640394,0.689655,0.738916,0.837438,0.8867,0.935961,1.034483],"tickSize":-7,"labels":false,"title":null}},
  "y":{"field":"v","type":"quantitative","scale":{"type":"log","domain":[0.1092,100],"nice":false},
   "axis":{"orient":"right","values":[0.2,0.3,0.4,0.5,0.6,0.7,0.8,0.9,2,3,4,5,6,7,8,9,20,30,40,50,60,70,80,90],"tickSize":-7,"labels":false,"title":null}}
 }},
{"data":{"name":"pts"},"transform":[{"filter":"datum.s==='W' && datum.b==='J-band'"}],
 "mark":{"type":"line","strokeWidth":4},
 "encoding":{
  "x":{"field":"x","type":"quantitative","scale":{"domain":[0.25,1.05],"nice":false,"zero":false},"axis":null},
  "y":{"field":"v","type":"quantitative","scale":{"type":"log","domain":[0.1092,100],"nice":false},"axis":null},
  "stroke":{"field":"b","type":"nominal","scale":{"domain":["J-band","H-band","K-band","Broadband"],"range":["#ff7f0e","#2ca02c","#d62728","#9467bd"]},
   "legend":{"orient":"none","legendX":26.6,"legendY":310.7,"direction":"vertical","title":null,"symbolType":"M-1,0H1","symbolSize":3025,"symbolStrokeWidth":4,"labelFont":"DejaVu Serif","labelFontSize":25,"labelColor":"black","labelOffset":15.4,"padding":8,"clipHeight":28,"rowPadding":8.7}}
 }},
{"data":{"name":"pts"},"transform":[{"filter":"datum.s==='W' && datum.b==='H-band'"}],
 "mark":{"type":"line","strokeWidth":6.5,"color":"white"},
 "encoding":{
  "x":{"field":"x","type":"quantitative","scale":{"domain":[0.25,1.05],"nice":false,"zero":false},"axis":null},
  "y":{"field":"v","type":"quantitative","scale":{"type":"log","domain":[0.1092,100],"nice":false},"axis":null}
 }},
{"data":{"name":"pts"},"transform":[{"filter":"datum.s==='W' && datum.b==='H-band'"}],
 "mark":{"type":"line","strokeWidth":4},
 "encoding":{
  "x":{"field":"x","type":"quantitative","scale":{"domain":[0.25,1.05],"nice":false,"zero":false},"axis":null},
  "y":{"field":"v","type":"quantitative","scale":{"type":"log","domain":[0.1092,100],"nice":false},"axis":null},
  "stroke":{"field":"b","type":"nominal","scale":{"domain":["J-band","H-band","K-band","Broadband"],"range":["#ff7f0e","#2ca02c","#d62728","#9467bd"]},"legend":null}
 }},
{"data":{"name":"pts"},"transform":[{"filter":"datum.s==='W' && datum.b==='K-band'"}],
 "mark":{"type":"line","strokeWidth":6.5,"color":"white"},
 "encoding":{
  "x":{"field":"x","type":"quantitative","scale":{"domain":[0.25,1.05],"nice":false,"zero":false},"axis":null},
  "y":{"field":"v","type":"quantitative","scale":{"type":"log","domain":[0.1092,100],"nice":false},"axis":null}
 }},
{"data":{"name":"pts"},"transform":[{"filter":"datum.s==='W' && datum.b==='K-band'"}],
 "mark":{"type":"line","strokeWidth":4},
 "encoding":{
  "x":{"field":"x","type":"quantitative","scale":{"domain":[0.25,1.05],"nice":false,"zero":false},"axis":null},
  "y":{"field":"v","type":"quantitative","scale":{"type":"log","domain":[0.1092,100],"nice":false},"axis":null},
  "stroke":{"field":"b","type":"nominal","scale":{"domain":["J-band","H-band","K-band","Broadband"],"range":["#ff7f0e","#2ca02c","#d62728","#9467bd"]},"legend":null}
 }},
{"data":{"name":"pts"},"transform":[{"filter":"datum.s==='W' && datum.b==='Broadband'"}],
 "mark":{"type":"line","strokeWidth":6.5,"color":"white"},
 "encoding":{
  "x":{"field":"x","type":"quantitative","scale":{"domain":[0.25,1.05],"nice":false,"zero":false},"axis":null},
  "y":{"field":"v","type":"quantitative","scale":{"type":"log","domain":[0.1092,100],"nice":false},"axis":null}
 }},
{"data":{"name":"pts"},"transform":[{"filter":"datum.s==='W' && datum.b==='Broadband'"}],
 "mark":{"type":"line","strokeWidth":4},
 "encoding":{
  "x":{"field":"x","type":"quantitative","scale":{"domain":[0.25,1.05],"nice":false,"zero":false},"axis":null},
  "y":{"field":"v","type":"quantitative","scale":{"type":"log","domain":[0.1092,100],"nice":false},"axis":null},
  "stroke":{"field":"b","type":"nominal","scale":{"domain":["J-band","H-band","K-band","Broadband"],"range":["#ff7f0e","#2ca02c","#d62728","#9467bd"]},"legend":null}
 }},
{"data":{"name":"ann"},"transform":[{"filter":"datum.s==='W'"}],
 "mark":{"type":"rule","strokeWidth":3,"color":"black"},
 "encoding":{
  "x":{"field":"x","type":"quantitative","scale":{"domain":[0.25,1.05],"nice":false,"zero":false},"axis":null},
  "x2":{"field":"x2"},
  "y":{"field":"y","type":"quantitative","scale":{"type":"log","domain":[0.1092,100],"nice":false},"axis":null}
 }},
{"data":{"name":"ann"},"transform":[{"filter":"datum.s==='W'"}],
 "mark":{"type":"point","shape":"M0,0L-2,-0.85L-2,0.85Z","size":169,"filled":true,"color":"black","opacity":1,"strokeWidth":0},
 "encoding":{
  "x":{"field":"tip","type":"quantitative","scale":{"domain":[0.25,1.05],"nice":false,"zero":false},"axis":null},
  "y":{"field":"y","type":"quantitative","scale":{"type":"log","domain":[0.1092,100],"nice":false},"axis":null}
 }},
{"data":{"name":"ann"},"transform":[{"filter":"datum.s==='W'"}],
 "mark":{"type":"text","fontSize":21,"font":"DejaVu Sans","align":"center","baseline":"middle","color":"black"},
 "encoding":{
  "x":{"field":"xm","type":"quantitative","scale":{"domain":[0.25,1.05],"nice":false,"zero":false},"axis":null},
  "y":{"field":"yt","type":"quantitative","scale":{"type":"log","domain":[0.1092,100],"nice":false},"axis":null},
  "text":{"field":"label"}
 }}
]
}
]
}
